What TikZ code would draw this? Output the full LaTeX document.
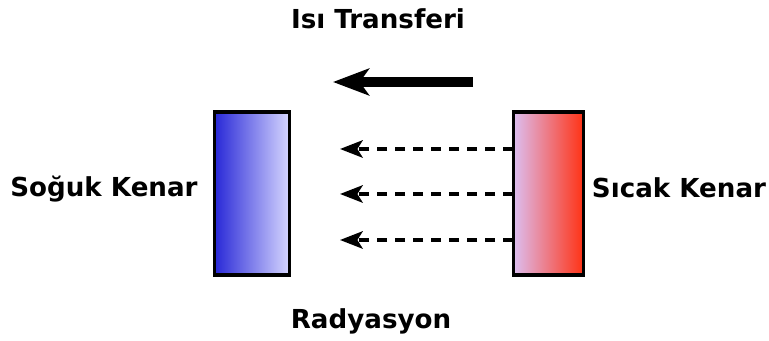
\documentclass[tikz,border=0pt]{standalone}
\usepackage{fontspec}
\setmainfont{DejaVu Sans}
\usetikzlibrary{arrows.meta}
\begin{document}
\begin{tikzpicture}[x=0.75pt,y=-0.75pt,
  lbl/.style={font=\bfseries\fontsize{19.6}{22}\selectfont, inner sep=0pt},
  plate/.style={draw=black, line width=2.6pt, minimum width=70*0.75pt, minimum height=163*0.75pt, inner sep=0pt},
  bigarrow/.style={line width=7.5pt, -{Stealth[length=27pt,width=20pt,inset=7pt]}},
  ray/.style={line width=2.8pt, dash pattern=on 7.5pt off 6pt, -{Stealth[length=17pt,width=13pt,inset=4pt]}}]
\useasboundingbox (0,0) rectangle (769,341);
\node[plate, minimum width=75*0.75pt, left color={rgb,255:red,40;green,40;blue,215}, right color={rgb,255:red,215;green,215;blue,255}] (cold) at (252,193.5) {};
\node[plate, left color={rgb,255:red,220;green,190;blue,240}, right color={rgb,255:red,255;green,50;blue,20}] (hot) at (548.5,193.5) {};
\node[lbl] (title) at (378,19) {Isı Transferi};
\node[lbl] (coldlbl) at (104,189) {Soğuk Kenar};
\node[lbl] (hotlbl) at (679,188) {Sıcak Kenar};
\node[lbl] (rad) at (371,321) {Radyasyon};
\coordinate (bs) at (473,82);
\coordinate (be) at (333,82);
\draw[bigarrow] (bs) -- (be);
\foreach \y/\n in {149/a,194/b,240/c}{
  \coordinate (s\n) at (513,\y);
  \coordinate (e\n) at (340,\y);
  \draw[ray] (s\n) -- (e\n);
}
\end{tikzpicture}
\end{document}
